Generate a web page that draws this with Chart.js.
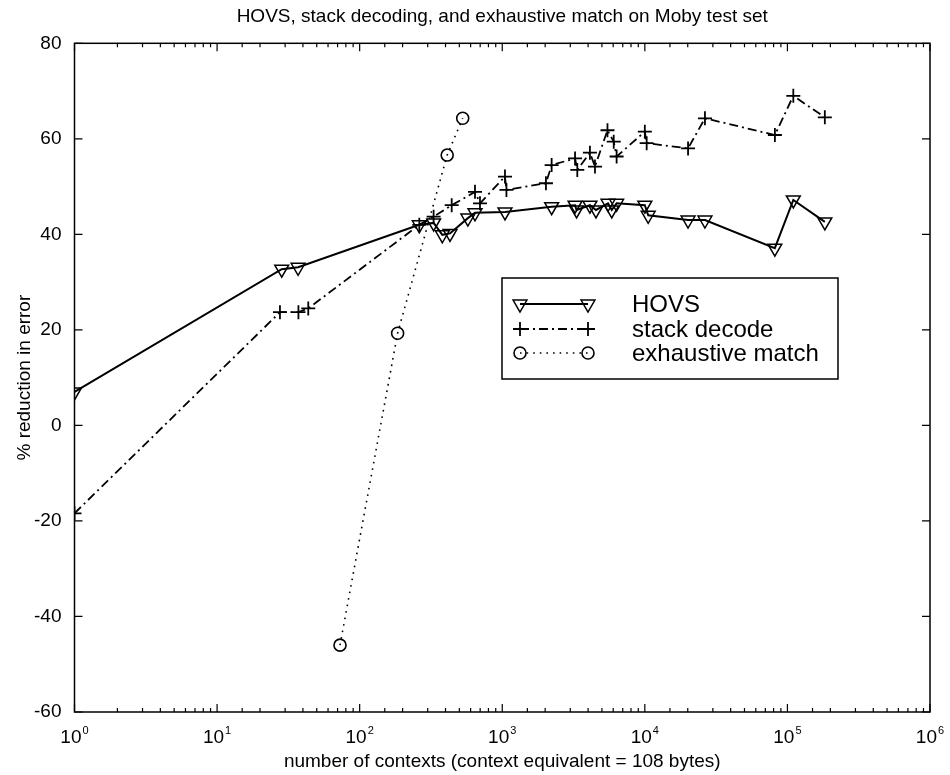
<!DOCTYPE html>
<html>
<head>
<meta charset="utf-8">
<script src="https://cdn.jsdelivr.net/npm/chart.js@4.4.1/dist/chart.umd.min.js"></script>
<style>
  html, body { margin: 0; padding: 0; background: #fff; }
  #wrap { width: 950px; height: 775px; }
</style>
</head>
<body>
<div id="wrap"><canvas id="moby"></canvas></div>
<script>
// data
const hovsX = [1, 28.4, 37, 262, 330, 380, 430, 574, 644, 1045, 2220, 3240, 3320, 4120, 4540, 5520, 5860, 6340, 10000, 10560, 20100, 26400, 81600, 110000, 183000];
const hovsY = [7.0, 32.7, 33.1, 42.0, 42.4, 39.9, 40.2, 43.4, 44.5, 44.7, 45.8, 46.1, 45.1, 46.1, 45.1, 46.5, 45.1, 46.5, 46.1, 44.0, 43.0, 43.0, 37.1, 47.2, 42.6];

const stackX = [1, 27.6, 37.2, 43.6, 262, 330, 442, 644, 698, 1045, 1070, 2025, 2220, 3240, 3360, 4120, 4470, 5470, 6050, 6340, 10000, 10300, 20100, 26400, 81700, 110000, 183000];
const stackY = [-18.4, 23.7, 23.7, 24.5, 42.0, 43.7, 46.1, 48.9, 46.5, 52.1, 49.3, 50.7, 54.5, 55.9, 53.5, 57.1, 54.2, 61.8, 59.4, 56.3, 61.5, 59.1, 58.0, 64.3, 60.8, 69.0, 64.5];

const exhX = [72.8, 184.6, 411, 528];
const exhY = [-46.0, 19.3, 56.6, 64.3];

const seriesNames = ['HOVS', 'stack decode', 'exhaustive match'];
const xTickBase = '10';
const xTickExp = ['0', '1', '2', '3', '4', '5', '6'];
const yTickValues = [-60, -40, -20, 0, 20, 40, 60, 80];

const FONT = "'Liberation Sans', Arial, Helvetica, sans-serif";

function pts(xs, ys) {
    return xs.map((x, i) => ({ x: x, y: ys[i] }));
}

function isDecade(v) {
    const l = Math.log10(v);
    return Math.abs(l - Math.round(l)) < 1e-9;
}

// frame + inward ticks like the old matlab axes, power-of-ten labels, legend box
const matlabFrame = {
    id: 'matlabFrame',
    afterDraw(chart) {
        const { ctx, chartArea: a, scales: { x, y } } = chart;
        ctx.save();
        ctx.strokeStyle = '#000';
        ctx.lineWidth = 1.5;
        ctx.strokeRect(a.left, a.top, a.right - a.left, a.bottom - a.top);

        ctx.lineWidth = 1.2;
        ctx.beginPath();
        x.ticks.forEach(t => {
            const px = x.getPixelForValue(t.value);
            const len = isDecade(t.value) ? 8 : 4;
            ctx.moveTo(px, a.bottom); ctx.lineTo(px, a.bottom - len);
            ctx.moveTo(px, a.top); ctx.lineTo(px, a.top + len);
        });
        y.ticks.forEach(t => {
            const py = y.getPixelForValue(t.value);
            ctx.moveTo(a.left, py); ctx.lineTo(a.left + 8, py);
            ctx.moveTo(a.right, py); ctx.lineTo(a.right - 8, py);
        });
        ctx.stroke();

        // x tick labels 10^n with raised exponent
        ctx.fillStyle = '#000';
        ctx.textBaseline = 'alphabetic';
        ctx.textAlign = 'left';
        x.ticks.forEach(t => {
            if (!isDecade(t.value)) return;
            const n = Math.round(Math.log10(t.value));
            const px = x.getPixelForValue(t.value);
            ctx.font = '19px ' + FONT;
            const wb = ctx.measureText(xTickBase).width;
            ctx.font = '11px ' + FONT;
            const we = ctx.measureText(xTickExp[n]).width;
            const sx = px - (wb + we + 1) / 2;
            ctx.font = '19px ' + FONT;
            ctx.fillText(xTickBase, sx, a.bottom + 31);
            ctx.font = '11px ' + FONT;
            ctx.fillText(xTickExp[n], sx + wb + 1, a.bottom + 22);
        });

        // legend
        const bx = 502, by = 278, bw = 336, bh = 101;
        ctx.fillStyle = '#fff';
        ctx.fillRect(bx, by, bw, bh);
        ctx.lineWidth = 1.5;
        ctx.strokeRect(bx, by, bw, bh);

        const rows = [304, 329, 353];
        chart.data.datasets.forEach((ds, i) => {
            const ly = rows[i];
            ctx.save();
            ctx.strokeStyle = '#000';
            ctx.lineWidth = ds.borderWidth;
            ctx.setLineDash(ds.borderDash || []);
            ctx.beginPath();
            ctx.moveTo(520, ly); ctx.lineTo(588, ly);
            ctx.stroke();
            ctx.setLineDash([]);
            ctx.lineWidth = ds.pointBorderWidth;
            [520, 588].forEach(mx => drawMarker(ctx, ds.pointStyle, mx, ly, ds.pointRadius));
            ctx.restore();

            ctx.fillStyle = '#000';
            ctx.font = '24px ' + FONT;
            ctx.textBaseline = 'middle';
            ctx.textAlign = 'left';
            ctx.fillText(ds.label, 632, ly + 1);
        });
        ctx.restore();
    }
};

function drawMarker(ctx, style, x, y, r) {
    ctx.beginPath();
    if (style === 'triangle') {
        // pointing down
        for (let k = 0; k < 3; k++) {
            const ang = Math.PI + k * 2 * Math.PI / 3;
            const px = x + Math.sin(ang) * r, py = y - Math.cos(ang) * r;
            if (k === 0) ctx.moveTo(px, py); else ctx.lineTo(px, py);
        }
        ctx.closePath();
    } else if (style === 'cross') {
        ctx.moveTo(x - r, y); ctx.lineTo(x + r, y);
        ctx.moveTo(x, y - r); ctx.lineTo(x, y + r);
    } else {
        ctx.arc(x, y, r, 0, Math.PI * 2);
    }
    ctx.stroke();
}

new Chart(document.getElementById('moby'), {
    type: 'scatter',
    data: {
        datasets: [
            {
                label: seriesNames[0],
                data: pts(hovsX, hovsY),
                showLine: true,
                borderColor: '#000',
                borderWidth: 2,
                pointStyle: 'triangle',
                pointRotation: 180,
                pointRadius: 8,
                pointBorderWidth: 1.5,
                pointBorderColor: '#000',
                pointBackgroundColor: 'rgba(0,0,0,0)'
            },
            {
                label: seriesNames[1],
                data: pts(stackX, stackY),
                showLine: true,
                borderColor: '#000',
                borderWidth: 1.8,
                borderDash: [9, 4, 2, 4],
                pointStyle: 'cross',
                pointRadius: 7,
                pointBorderWidth: 1.8,
                pointBorderColor: '#000',
                pointBackgroundColor: 'rgba(0,0,0,0)'
            },
            {
                label: seriesNames[2],
                data: pts(exhX, exhY),
                showLine: true,
                borderColor: '#000',
                borderWidth: 1.6,
                borderDash: [1.6, 5],
                pointStyle: 'circle',
                pointRadius: 6,
                pointBorderWidth: 1.6,
                pointBorderColor: '#000',
                pointBackgroundColor: 'rgba(0,0,0,0)'
            }
        ]
    },
    options: {
        responsive: true,
        maintainAspectRatio: false,
        animation: false,
        layout: { padding: { left: 0, right: 20, top: 0, bottom: 0 } },
        plugins: {
            legend: { display: false },
            tooltip: { enabled: false },
            title: {
                display: true,
                fullSize: false,
                text: 'HOVS, stack decoding, and exhaustive match on Moby test set',
                color: '#000',
                font: { family: FONT, size: 19, weight: 'normal' },
                padding: { top: 5, bottom: 15.5 }
            }
        },
        scales: {
            x: {
                type: 'logarithmic',
                min: 1,
                max: 1e6,
                grid: { display: false },
                border: { display: false },
                ticks: {
                    autoSkip: false,
                    maxRotation: 0,
                    minRotation: 0,
                    color: '#000',
                    font: { family: FONT, size: 19 },
                    // labels are drawn by matlabFrame with a raised exponent
                    callback: function () { return ''; }
                },
                title: {
                    display: true,
                    text: 'number of contexts (context equivalent = 108 bytes)',
                    color: '#000',
                    font: { family: FONT, size: 19 },
                    padding: { top: 0, bottom: 2 }
                },
                afterFit: function (scale) { scale.height = 63; }
            },
            y: {
                min: -60,
                max: 80,
                grid: { display: false },
                border: { display: false },
                afterBuildTicks: function (scale) {
                    scale.ticks = yTickValues.map(v => ({ value: v }));
                },
                ticks: {
                    padding: 5,
                    color: '#000',
                    font: { family: FONT, size: 19 }
                },
                title: {
                    display: true,
                    text: '% reduction in error',
                    color: '#000',
                    font: { family: FONT, size: 19 },
                    padding: { top: 13, bottom: 0 }
                },
                afterFit: function (scale) { scale.width = 74.5; }
            }
        }
    },
    plugins: [matlabFrame]
});
</script>
</body>
</html>
